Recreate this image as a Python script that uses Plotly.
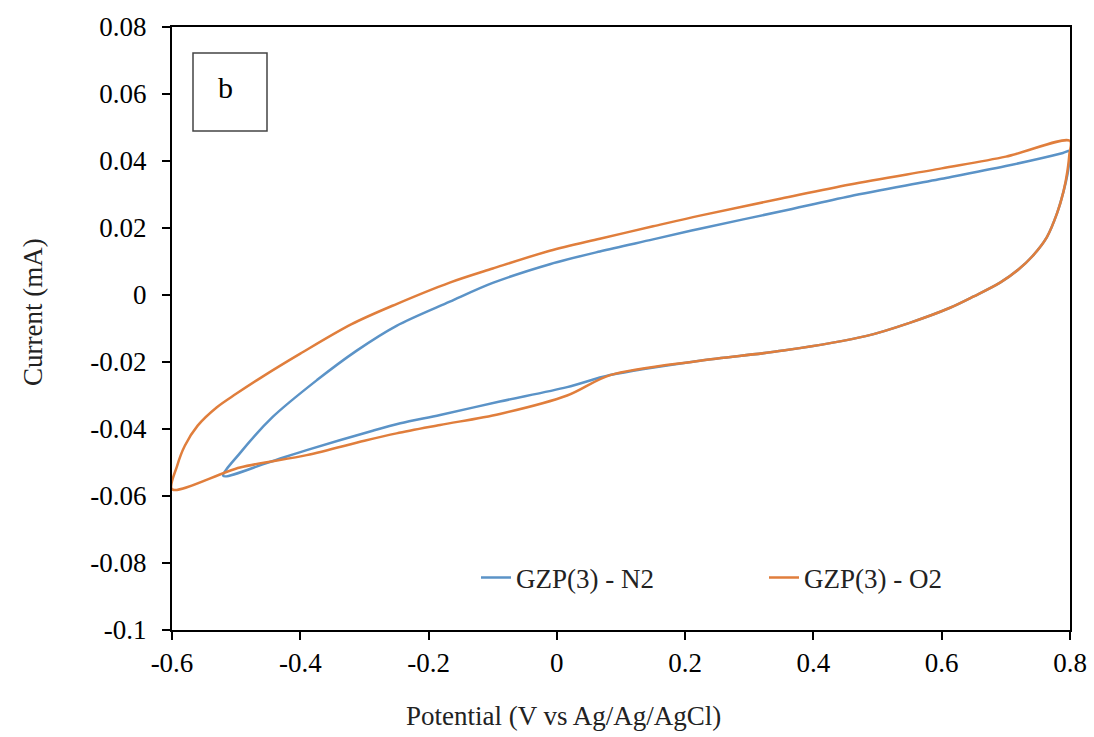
import plotly.graph_objects as go

# GZP(3) - N2 : cyclic voltammogram loop (potential V, current mA)
n2_potential = [-0.52, -0.494, -0.443, -0.374, -0.312, -0.25, -0.167, -0.1, -0.011, 0.067, 0.15, 0.223, 0.35, 0.457, 0.6, 0.7, 0.789, 0.8,
                0.799, 0.796, 0.79, 0.78, 0.764, 0.741, 0.72, 0.691, 0.65, 0.613, 0.55, 0.483, 0.353, 0.223, 0.083, 0.016, -0.089, -0.182, -0.244, -0.287, -0.39, -0.45, -0.52]
n2_current = [-0.054, -0.0472, -0.0364, -0.0254, -0.0166, -0.0092, -0.0020, 0.0036, 0.0092, 0.0130, 0.0166, 0.0198, 0.0250, 0.0295, 0.0347, 0.0385, 0.0424, 0.043,
              0.040, 0.036, 0.031, 0.0245, 0.0173, 0.0115, 0.0077, 0.0037, -0.0004, -0.0038, -0.0083, -0.0122, -0.0166, -0.0196, -0.0239, -0.0275, -0.0318, -0.0358, -0.0383, -0.0405, -0.0463, -0.0500, -0.054]

# GZP(3) - O2
o2_potential = [-0.6, -0.592, -0.58, -0.56, -0.53, -0.5, -0.46, -0.4, -0.32, -0.25, -0.167, -0.1, -0.011, 0.067, 0.15, 0.223, 0.35, 0.457, 0.6, 0.7, 0.8,
                0.799, 0.796, 0.79, 0.78, 0.764, 0.741, 0.72, 0.691, 0.65, 0.613, 0.55, 0.483, 0.353, 0.223, 0.083, 0.016, -0.089, -0.182, -0.25, -0.3, -0.39, -0.494, -0.6]
o2_current = [-0.058, -0.051, -0.045, -0.039, -0.0335, -0.0295, -0.0245, -0.0175, -0.0087, -0.0027, 0.0037, 0.0079, 0.0132, 0.0168, 0.0205, 0.0237, 0.0288, 0.0330, 0.0378, 0.0413, 0.046,
              0.042, 0.037, 0.031, 0.0245, 0.0173, 0.0115, 0.0077, 0.0037, -0.0004, -0.0038, -0.0083, -0.0122, -0.0166, -0.0196, -0.0239, -0.030, -0.0355, -0.0388, -0.0413, -0.0435, -0.0478, -0.0515, -0.058]

x_ticks = [-0.6, -0.4, -0.2, 0, 0.2, 0.4, 0.6, 0.8]
x_ticktext = ["-0.6", "-0.4", "-0.2", "0", "0.2", "0.4", "0.6", "0.8"]
y_ticks = [0.08, 0.06, 0.04, 0.02, 0, -0.02, -0.04, -0.06, -0.08, -0.1]
y_ticktext = ["0.08", "0.06", "0.04", "0.02", "0", "-0.02", "-0.04", "-0.06", "-0.08", "-0.1"]

FONT = "Liberation Serif"
PL, PR, PT, PB = 172, 1070, 27, 630
PW, PH = PR - PL, PB - PT

fig = go.Figure()
fig.add_trace(go.Scatter(x=n2_potential, y=n2_current, mode="lines", name="GZP(3) - N2",
                         line=dict(color="#5b93c7", width=2.5, shape="spline", smoothing=0.9)))
fig.add_trace(go.Scatter(x=o2_potential, y=o2_current, mode="lines", name="GZP(3) - O2",
                         line=dict(color="#e07e3c", width=2.5, shape="spline", smoothing=0.9)))

axis_common = dict(showgrid=False, zeroline=False, showline=True, linecolor="black", linewidth=2,
                   mirror=True, ticks="outside", ticklen=8, tickwidth=1.5, tickcolor="black",
                   tickfont=dict(family=FONT, size=27, color="black"))

fig.update_xaxes(range=[-0.6, 0.8], tickvals=x_ticks, ticktext=x_ticktext, **axis_common)
fig.update_yaxes(range=[-0.1, 0.08], tickvals=y_ticks, ticktext=y_ticktext, ticklabelstandoff=10, **axis_common)

# axis titles
fig.add_annotation(xref="paper", yref="paper", x=(563 - PL) / PW, y=(PB - 716) / PH,
                   text="Potential (V vs Ag/Ag/AgCl)", showarrow=False, xanchor="center", yanchor="middle",
                   font=dict(family=FONT, size=27, color="#222"))
fig.add_annotation(xref="paper", yref="paper", x=(33 - PL) / PW, y=(PB - 312) / PH,
                   text="Current (mA)", showarrow=False, textangle=-90, xanchor="center", yanchor="middle",
                   font=dict(family=FONT, size=27, color="#222"))

# panel label box
fig.add_shape(type="rect", xref="paper", yref="paper",
              x0=(193 - PL) / PW, x1=(267 - PL) / PW,
              y0=(PB - 131) / PH, y1=(PB - 53) / PH,
              line=dict(color="#444", width=1.5), fillcolor="white")
fig.add_annotation(xref="paper", yref="paper", x=(225 - PL) / PW, y=(PB - 87) / PH,
                   text="b", showarrow=False, xanchor="center", yanchor="middle",
                   font=dict(family=FONT, size=30, color="black"))

fig.update_layout(
    width=1094, height=737,
    margin=dict(l=PL, r=1094 - PR, t=PT, b=737 - PB, autoexpand=False),
    plot_bgcolor="white", paper_bgcolor="white",
    showlegend=True,
    legend=dict(orientation="h", x=(476 - PL) / PW, y=(PB - 578) / PH, xanchor="left", yanchor="middle",
                font=dict(family=FONT, size=27, color="#222"), bgcolor="rgba(0,0,0,0)",
                entrywidth=243, entrywidthmode="pixels"),
)

fig.write_html("out.html")
